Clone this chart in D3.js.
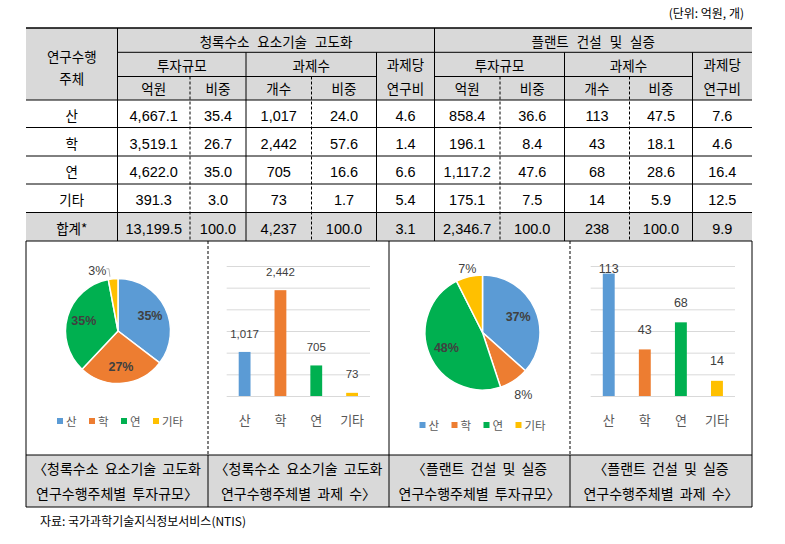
<!DOCTYPE html>
<html><head><meta charset="utf-8">
<script src="https://cdn.jsdelivr.net/npm/d3@7"></script>
<style>body{margin:0;background:#fff} svg{display:block}</style>
</head><body><div id="chart"></div>
<script>
// ---------- DATA ----------
const regions = ['산', '학', '연', '기타'];
const totalLabel = '합계*';
const unitNote = '(단위: 억원, 개)';
const rowHeader = ['연구수행', '주체'];
const groupTitles = ['청록수소 요소기술 고도화', '플랜트 건설 및 실증'];
const subHeaders = ['투자규모', '과제수'];
const perProjectHeader = ['과제당', '연구비'];
const unitHeaders = ['억원', '비중', '개수', '비중'];

// 청록수소 요소기술 고도화 (last value = 합계)
const h2Budget = [4667.1, 3519.1, 4622.0, 391.3, 13199.5];
const h2BudgetShare = [35.4, 26.7, 35.0, 3.0, 100.0];
const h2Projects = [1017, 2442, 705, 73, 4237];
const h2ProjectShare = [24.0, 57.6, 16.6, 1.7, 100.0];
const h2PerProject = [4.6, 1.4, 6.6, 5.4, 3.1];

// 플랜트 건설 및 실증 (last value = 합계)
const plantBudget = [858.4, 196.1, 1117.2, 175.1, 2346.7];
const plantBudgetShare = [36.6, 8.4, 47.6, 7.5, 100.0];
const plantProjects = [113, 43, 68, 14, 238];
const plantProjectShare = [47.5, 18.1, 28.6, 5.9, 100.0];
const plantPerProject = [7.6, 4.6, 16.4, 12.5, 9.9];

const h2ProjectTicks = [0, 500, 1000, 1500, 2000, 2500, 3000];
const plantProjectTicks = [0, 20, 40, 60, 80, 100, 120];

const captions = [
  ['〈청록수소 요소기술 고도화', '연구수행주체별 투자규모〉'],
  ['〈청록수소 요소기술 고도화', '연구수행주체별 과제 수〉'],
  ['〈플랜트 건설 및 실증', '연구수행주체별 투자규모〉'],
  ['〈플랜트 건설 및 실증', '연구수행주체별 과제 수〉']
];
const sourceNote = '자료: 국가과학기술지식정보서비스(NTIS)';

// ---------- STYLE ----------
const colors = ['#5b9bd5', '#ed7d31', '#00b050', '#ffc000'];
const KR = '"Noto Sans CJK KR", "Noto Sans", sans-serif';
const NUM = '"Liberation Sans", Arial, "Noto Sans CJK KR", sans-serif';
const GRAY = '#d9d9d9';

const W = 785, H = 544;
const svg = d3.select('#chart').append('svg').attr('width', W).attr('height', H);
svg.append('rect').attr('width', W).attr('height', H).attr('fill', '#fff');

// layout
const colX = [26, 117.5, 190, 246, 311.5, 376.5, 434.5, 500, 564.5, 629.5, 692.5, 752];
const headY = [28, 52.3, 76.5, 100];
const rowY = [100, 127.5, 156, 184, 212.5, 241];
const chartBottom = 455, capBottom = 507;
const cellX = [26, 208, 389, 570, 752];

// backgrounds
svg.append('rect').attr('x', colX[0]).attr('y', headY[0]).attr('width', colX[11] - colX[0]).attr('height', headY[3] - headY[0]).attr('fill', GRAY);
svg.append('rect').attr('x', colX[0]).attr('y', rowY[4]).attr('width', colX[11] - colX[0]).attr('height', rowY[5] - rowY[4]).attr('fill', GRAY);
svg.append('rect').attr('x', cellX[0]).attr('y', chartBottom).attr('width', cellX[4] - cellX[0]).attr('height', capBottom - chartBottom).attr('fill', GRAY);

const lines = svg.append('g').attr('stroke', '#000').attr('stroke-width', 1).attr('fill', 'none');
function hline(x1, x2, y, w) { lines.append('line').attr('x1', x1).attr('x2', x2).attr('y1', y).attr('y2', y).attr('stroke-width', w || 1); }
function vline(x, y1, y2, dash) { const l = lines.append('line').attr('x1', x).attr('x2', x).attr('y1', y1).attr('y2', y2); if (dash) l.attr('stroke-dasharray', '3,2'); }

hline(colX[0], colX[11], headY[0], 1.5);
hline(colX[1], colX[11], headY[1]);
hline(colX[1], colX[5], headY[2]);
hline(colX[6], colX[10], headY[2]);
rowY.forEach(y => hline(colX[0], colX[11], y));
vline(colX[1], headY[0], rowY[5]);
vline(colX[6], headY[0], rowY[5]);
[3, 5, 8, 10].forEach(c => vline(colX[c], headY[1], rowY[5]));
[2, 4, 7, 9].forEach(c => vline(colX[c], headY[2], rowY[5], true));
// chart area
[0, 2, 4].forEach(i => vline(cellX[i], rowY[5], capBottom));
[1, 3].forEach(i => { vline(cellX[i], rowY[5], chartBottom, true); vline(cellX[i], chartBottom, capBottom); });
hline(cellX[0], cellX[4], chartBottom);
hline(cellX[0], cellX[4], capBottom);

// text helper
function txt(x, y, s, o) {
  o = o || {};
  return svg.append('text').attr('x', x).attr('y', y).text(s)
    .attr('text-anchor', o.anchor || 'middle')
    .attr('font-family', o.font || KR)
    .attr('font-size', o.size || 13.5)
    .attr('font-weight', o.weight || 'normal')
    .attr('fill', o.fill || '#000')
    .attr('word-spacing', o.ws || 0);
}
const mid = (a, b) => (a + b) / 2;

// unit note
txt(744, 18, unitNote, { anchor: 'end', size: 12 });

// headers
txt(mid(colX[0], colX[1]), 62, rowHeader[0]);
txt(mid(colX[0], colX[1]), 84, rowHeader[1]);
const groupStarts = [1, 6];
groupStarts.forEach((g, gi) => {
  txt(mid(colX[g], colX[g + 5]), 46.5, groupTitles[gi], { ws: 5 });
  txt(mid(colX[g], colX[g + 2]), 70.5, subHeaders[0]);
  txt(mid(colX[g + 2], colX[g + 4]), 70.5, subHeaders[1]);
  txt(mid(colX[g + 4], colX[g + 5]), 70, perProjectHeader[0]);
  txt(mid(colX[g + 4], colX[g + 5]), 93.5, perProjectHeader[1]);
  unitHeaders.forEach((u, ui) => txt(mid(colX[g + ui], colX[g + ui + 1]), 94, u));
});

// data rows
const f1 = d3.format(',.1f'), fs = d3.format('.1f'), fi = d3.format(',');
const tableCols = [
  [h2Budget, f1], [h2BudgetShare, fs], [h2Projects, fi], [h2ProjectShare, fs], [h2PerProject, fs],
  [plantBudget, f1], [plantBudgetShare, fs], [plantProjects, fi], [plantProjectShare, fs], [plantPerProject, fs]
];
const rowLabels = regions.concat([totalLabel]);
rowLabels.forEach((lab, r) => {
  const yc = mid(rowY[r], rowY[r + 1]) + 2;
  txt(mid(colX[0], colX[1]), yc + 5, lab, { size: 13.5 });
  tableCols.forEach(([arr, fmt], c) => {
    txt(mid(colX[c + 1], colX[c + 2]), yc + 5.2, fmt(arr[r]), { font: NUM, size: 14.5 });
  });
});

// ---------- PIE CHARTS ----------
function drawPie(cx, cy, r, values, legendY, cellCenter, outsideDx) {
  const pie = d3.pie().sort(null).value(d => d);
  const arcs = pie(values);
  const total = d3.sum(values);
  const arc = d3.arc().innerRadius(0).outerRadius(r);
  const g = svg.append('g').attr('transform', `translate(${cx},${cy})`);
  g.selectAll('path').data(arcs).join('path')
    .attr('d', arc).attr('fill', (d, i) => colors[i])
    .attr('stroke', '#fff').attr('stroke-width', 1.5);
  arcs.forEach((a, i) => {
    const pct = Math.round(a.data / total * 100);
    const ang = (a.startAngle + a.endAngle) / 2;
    const s = Math.sin(ang), c = Math.cos(ang);
    if (pct >= 10) {
      const d = r * 0.68;
      g.append('text').attr('x', s * d).attr('y', -c * d + 4.5).text(pct + '%')
        .attr('text-anchor', 'middle').attr('font-family', NUM).attr('font-size', 12.5)
        .attr('font-weight', 'bold').attr('fill', '#404040');
    } else {
      const d = r + (c < 0 ? 17 : 8);
      const dx = outsideDx || 0;
      const lx = s * d + dx, ly = -c * d;
      g.append('text').attr('x', lx).attr('y', ly + 4.5).text(pct + '%')
        .attr('text-anchor', 'middle').attr('font-family', NUM).attr('font-size', 12.5)
        .attr('fill', '#404040');
      if (dx) {
        const ex = s * (r + 2), ey = -c * (r + 2);
        g.append('path').attr('d', `M${lx + 9},${ly - 2}H${ex - 4}L${ex - 3},${ey}`)
          .attr('fill', 'none').attr('stroke', '#a6a6a6').attr('stroke-width', 0.8);
      }
    }
  });
  // legend
  const step = 32, start = cellCenter - 57;
  regions.forEach((reg, i) => {
    const sx = start + i * step;
    svg.append('rect').attr('x', sx - 3).attr('y', legendY - 3).attr('width', 6).attr('height', 6).attr('fill', colors[i]);
    txt(sx + 6, legendY + 4.5, reg, { anchor: 'start', size: 11.5, fill: '#595959' });
  });
}

drawPie(118, 331, 52.5, h2Budget.slice(0, 4), 421, mid(cellX[0], cellX[1]), -15);
drawPie(482.5, 332.5, 57.5, plantBudget.slice(0, 4), 425, mid(cellX[2], cellX[3]), 0);

// ---------- BAR CHARTS ----------
function drawBars(x0, x1, yBase, yTop, values, ticks, labelOff, labelSize) {
  const x = d3.scaleBand().domain(regions).range([x0, x1]).paddingInner(0.67).paddingOuter(0.335);
  const y = d3.scaleLinear().domain([0, d3.max(ticks)]).range([yBase, yTop]);
  const grid = svg.append('g').attr('transform', `translate(${x0},0)`)
    .call(d3.axisLeft(y).tickValues(ticks).tickSize(-(x1 - x0)).tickFormat(''));
  grid.select('.domain').remove();
  grid.selectAll('line').attr('stroke', GRAY).attr('stroke-width', 1);
  svg.selectAll(null).data(values).join('rect')
    .attr('x', (d, i) => x(regions[i])).attr('width', x.bandwidth())
    .attr('y', d => y(d)).attr('height', d => yBase - y(d))
    .attr('fill', (d, i) => colors[i]);
  values.forEach((v, i) => {
    const cy = Math.max(y(v) - labelOff, yTop + 2);
    txt(x(regions[i]) + x.bandwidth() / 2, cy + labelSize * 0.36, fi(v), { font: NUM, size: labelSize, fill: '#404040' });
  });
  const ax = svg.append('g').attr('transform', `translate(0,${yBase})`)
    .call(d3.axisBottom(x).tickSize(0).tickPadding(20));
  ax.select('.domain').remove();
  ax.selectAll('text').attr('font-family', KR).attr('font-size', 13).attr('fill', '#595959');
}

drawBars(226.7, 370, 396, 266, h2Projects.slice(0, 4), h2ProjectTicks, 18.5, 11.5);
drawBars(590.7, 735, 396, 266, plantProjects.slice(0, 4), plantProjectTicks, 20, 12.5);

// ---------- CAPTIONS ----------
captions.forEach((lns, i) => {
  const cx = mid(cellX[i], cellX[i + 1]);
  txt(cx, 474, lns[0], { size: 14, ws: 3 });
  txt(cx, 499, lns[1], { size: 14, ws: 3 });
});

txt(40, 526, sourceNote, { anchor: 'start', size: 12 }).attr('textLength', 206).attr('lengthAdjust', 'spacingAndGlyphs');
</script>
</body></html>
